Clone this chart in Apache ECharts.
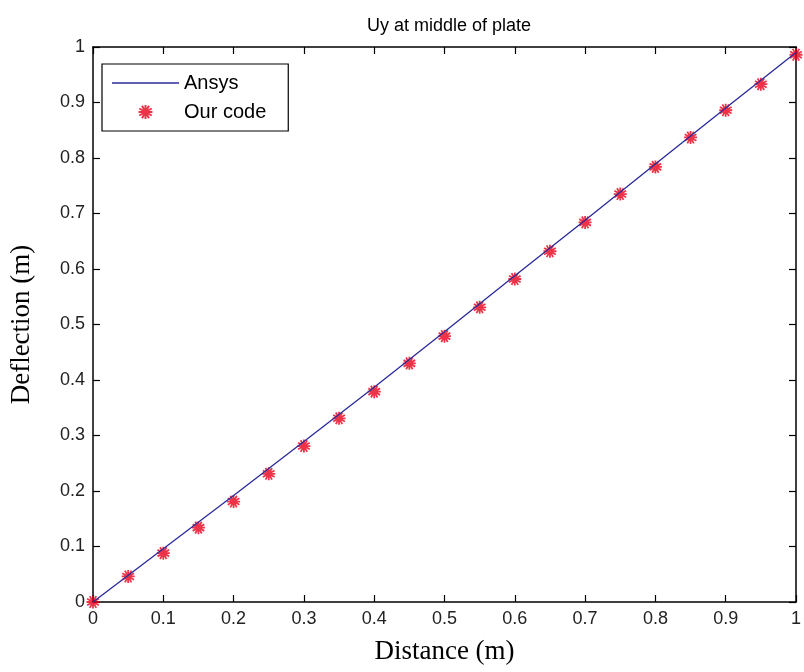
<!DOCTYPE html>
<html>
<head>
<meta charset="utf-8">
<script src="https://cdn.jsdelivr.net/npm/echarts@6/dist/echarts.min.js"></script>
<style>html,body{margin:0;padding:0;background:#fff}#c{width:804px;height:672px}</style>
</head>
<body>
<div id="c"></div>
<script>
var titleText = 'Uy at middle of plate';
var xName = 'Distance (m)';
var yName = 'Deflection (m)';
var ansysX = [0, 0.1, 0.2, 0.3, 0.4, 0.5, 0.6, 0.7, 0.8, 0.9, 1];
var ansysY = [0, 0.096, 0.192, 0.289, 0.387, 0.487, 0.588, 0.688, 0.789, 0.89, 0.99];
var codeX = [0, 0.05, 0.1, 0.15, 0.2, 0.25, 0.3, 0.35, 0.4, 0.45, 0.5, 0.55, 0.6, 0.65, 0.7, 0.75, 0.8, 0.85, 0.9, 0.95, 1];
var codeY = [0, 0.046, 0.088, 0.134, 0.181, 0.231, 0.281, 0.331, 0.379, 0.430, 0.479, 0.531, 0.582, 0.632, 0.684, 0.735, 0.784, 0.837, 0.886, 0.933, 0.986];

var star = 'path://M0,-10L0,10M-9,-5L9,5M-9,5L9,-5M-5,-9L5,9M-5,9L5,-9M-10,0L10,0';
var lineIcon = 'path://M0,0L100,0L100,2L0,2Z';
var chart = echarts.init(document.getElementById('c'));
var tickFont = {fontFamily: 'Liberation Sans, Arial', fontSize: 18, color: '#222'};
function axisBase(extra) {
  return Object.assign({
    type: 'value', min: 0, max: 1, interval: 0.1,
    axisLine: {show: true, onZero: false, lineStyle: {color: '#000', width: 1.5}},
    axisTick: {show: true, inside: true, length: 7, lineStyle: {color: '#000', width: 1.2}},
    splitLine: {show: false}
  }, extra);
}
chart.setOption({
  animation: false,
  backgroundColor: '#fff',
  title: {text: titleText, left: 444, textAlign: 'center', top: 12,
    textStyle: {fontFamily: 'Liberation Sans, Arial', fontSize: 18, fontWeight: 'normal', color: '#000'}},
  grid: {left: 92, top: 47, right: 8, bottom: 70},
  legend: {
    orient: 'vertical', left: 102, top: 64,
    borderColor: '#000', borderWidth: 1.2, backgroundColor: '#fff',
    padding: [9, 22, 9, 10], itemWidth: 67, itemHeight: 14, itemGap: 9,
    textStyle: {fontFamily: 'Liberation Sans, Arial', fontSize: 20, color: '#000'},
    data: [{name: 'Ansys', icon: lineIcon}, {name: 'Our code'}]
  },
  xAxis: [
    axisBase({position: 'bottom', name: xName, nameLocation: 'middle', nameGap: 36,
      nameTextStyle: {fontFamily: 'Liberation Serif, Times New Roman', fontSize: 27, color: '#000'},
      axisLabel: Object.assign({margin: 8}, tickFont)}),
    axisBase({position: 'top', axisLabel: {show: false}})
  ],
  yAxis: [
    axisBase({position: 'left', name: yName, nameLocation: 'middle', nameGap: 58,
      nameTextStyle: {fontFamily: 'Liberation Serif, Times New Roman', fontSize: 27, color: '#000'},
      axisLabel: Object.assign({margin: 8}, tickFont)}),
    axisBase({position: 'right', axisLabel: {show: false}})
  ],
  series: [
    {name: 'Ansys', type: 'line', symbol: 'none', showSymbol: false,
      lineStyle: {color: '#2a2a9a', width: 1.3}, itemStyle: {color: '#2a2a9a'},
      data: ansysX.map(function (x, i) { return [x, ansysY[i]]; })},
    {name: 'Our code', type: 'scatter', symbol: star, symbolSize: 13, symbolKeepAspect: true,
      itemStyle: {color: '#ff0000', borderColor: '#e8001a', borderWidth: 1.8},
      data: codeX.map(function (x, i) { return [x, codeY[i]]; })}
  ]
});
</script>
</body>
</html>
